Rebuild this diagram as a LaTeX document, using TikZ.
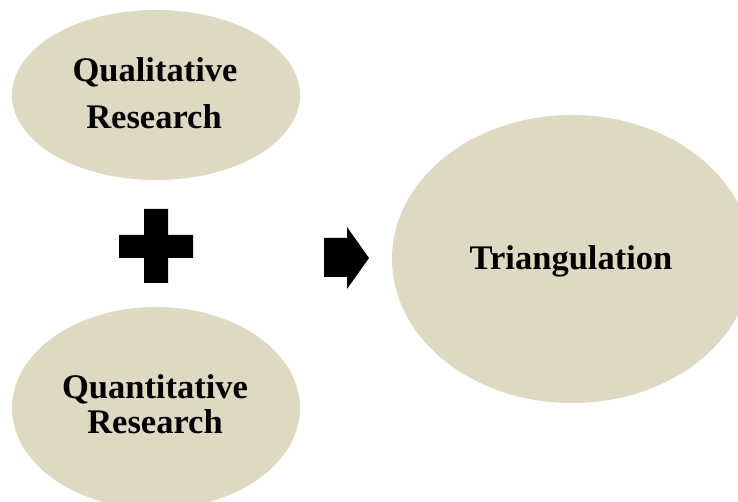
\documentclass[tikz,border=0pt]{standalone}
\usepackage{fontspec}
\setmainfont{Liberation Serif}
\usetikzlibrary{shapes.geometric}
\definecolor{sand}{HTML}{DDD9C3}
\tikzset{
  blob/.style={ellipse, fill=sand, draw=none, inner sep=0pt},
  lbl/.style={anchor=base, inner sep=0pt, font=\fontsize{34.5}{40}\selectfont\bfseries},
  glyph/.style={fill=black, draw=none}
}
\begin{document}
\begin{tikzpicture}[x=1pt, y=-1pt]
  \useasboundingbox (0,0) rectangle (738,502);
  \clip (0,0) rectangle (738,502);
  \fill[white] (0,0) rectangle (738,502);

  % the three ellipses
  \node[blob, minimum width=288pt, minimum height=170pt] (qual) at (156,95) {};
  \node[blob, minimum width=288pt, minimum height=202pt] (quant) at (156,408) {};
  \node[blob, minimum width=360pt, minimum height=288pt] (tri) at (572,259) {};

  % labels
  \node[lbl] (qualA) at (155,82) {Qualitative};
  \node[lbl] (qualB) at (154,129) {Research};
  \node[lbl] (quantA) at (155,398) {Quantitative};
  \node[lbl] (quantB) at (155,433) {Research};
  \node[lbl] (triA) at (571,270) {Triangulation};

  % plus sign
  \fill[glyph] (144,209) -- (168,209) -- (168,235) -- (193,235) -- (193,258)
     -- (168,258) -- (168,283) -- (144,283) -- (144,258) -- (119,258)
     -- (119,235) -- (144,235) -- cycle;

  % block arrow
  \fill[glyph] (324,238) -- (347,238) -- (347,227) -- (369,258) -- (347,289)
     -- (347,277) -- (324,277) -- cycle;
\end{tikzpicture}
\end{document}
